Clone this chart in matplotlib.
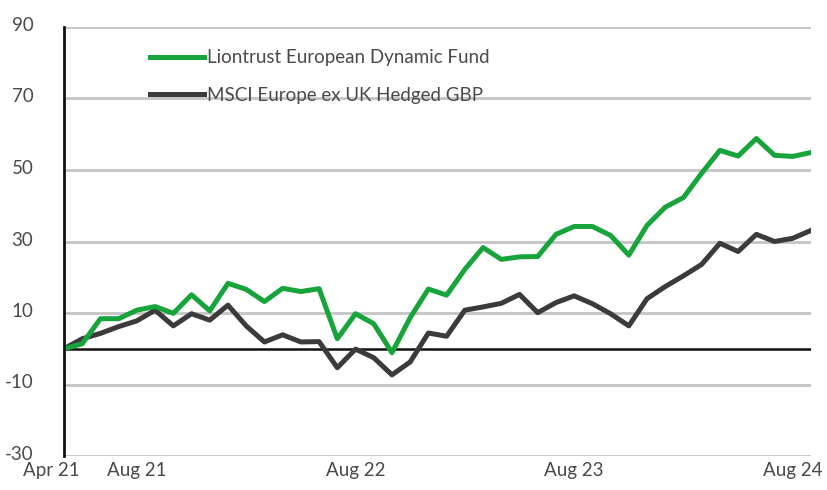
import matplotlib
matplotlib.use("Agg")
import matplotlib.pyplot as plt
import matplotlib.transforms as mtransforms
import numpy as np

#----------- Data -----------#
fund_name = "Liontrust European Dynamic Fund"
index_name = "MSCI Europe ex UK Hedged GBP"

# monthly cumulative performance, % (Apr 21 .. Sep 24)
fund = [0.0, 1.4, 8.4, 8.4, 10.8, 11.8, 9.9, 15.1, 10.6, 18.3,
        16.6, 13.2, 16.9, 16.0, 16.8, 2.8, 9.8, 7.0, -1.1, 8.7,
        16.7, 15.0, 22.2, 28.3, 25.0, 25.7, 25.8, 32.0, 34.2, 34.2,
        31.7, 26.2, 34.5, 39.6, 42.3, 49.1, 55.5, 53.9, 58.8, 54.1,
        53.8, 54.9]
index = [0.0, 2.8, 4.3, 6.2, 7.8, 10.8, 6.4, 9.8, 8.0, 12.2,
         6.4, 1.9, 3.9, 1.9, 2.0, -5.3, -0.1, -2.5, -7.3, -3.7,
         4.4, 3.5, 10.8, 11.7, 12.7, 15.2, 10.1, 12.9, 14.8, 12.6,
         9.8, 6.4, 14.0, 17.4, 20.4, 23.6, 29.5, 27.2, 32.0, 30.0,
         30.9, 33.1]

tick_pos = [0, 4, 16, 28, 40]
tick_labels = ["Apr 21", "Aug 21", "Aug 22", "Aug 23", "Aug 24"]
y_ticks = [90, 70, 50, 30, 10, -10, -30]

GREEN = "#17a43b"
DARK = "#3b3b3b"
GRID = "#c4c4c4"
TXT = "#4a4a4a"

plt.rcParams['font.family'] = ['Lato', 'DejaVu Sans']

#----------- Figure -----------#
fig = plt.figure(figsize=(8.27, 4.90), dpi=100)
ax = fig.add_axes([64/827, 34/490, 747/827, 429/490])

x = np.arange(len(fund))
for y in y_ticks:
    ax.axhline(y, color=GRID, lw=2.0, zorder=1)
ax.axhline(0, color="#111111", lw=1.8, zorder=2)

ax.plot(x, fund, color=GREEN, lw=3.6, label=fund_name, zorder=4)
ax.plot(x, index, color=DARK, lw=3.6, label=index_name, zorder=3)

ax.set_xlim(0, len(fund) - 1)
ax.set_ylim(-30, 90)
ax.set_yticks(y_ticks)
ax.set_yticklabels([str(v) for v in y_ticks])
ax.set_xticks(tick_pos)
ax.set_xticklabels(tick_labels)

for s in ["top", "right", "bottom"]:
    ax.spines[s].set_visible(False)
ax.spines["left"].set_linewidth(2.0)
ax.spines["left"].set_color("#111111")
ax.spines["left"].set_zorder(5)

ax.tick_params(axis="both", length=0, labelsize=13.5, colors=TXT)
ax.tick_params(axis="y", pad=22)
ax.tick_params(axis="x", pad=4)
# first label sits a bit left of the axis
lbl0 = ax.get_xticklabels()[0]
lbl0.set_transform(lbl0.get_transform() + mtransforms.ScaledTranslation(-13/100, 0, fig.dpi_scale_trans))
for t in ax.get_yticklabels():
    t.set_transform(t.get_transform() + mtransforms.ScaledTranslation(0, 3/100, fig.dpi_scale_trans))

leg = ax.legend(loc="upper left", bbox_to_anchor=(0.105, 0.966), frameon=False,
                fontsize=13.5, handlelength=2.9, handletextpad=0.15,
                labelspacing=1.1, borderaxespad=0)
for t in leg.get_texts():
    t.set_color(TXT)

fig.savefig("out.png", dpi=100)
